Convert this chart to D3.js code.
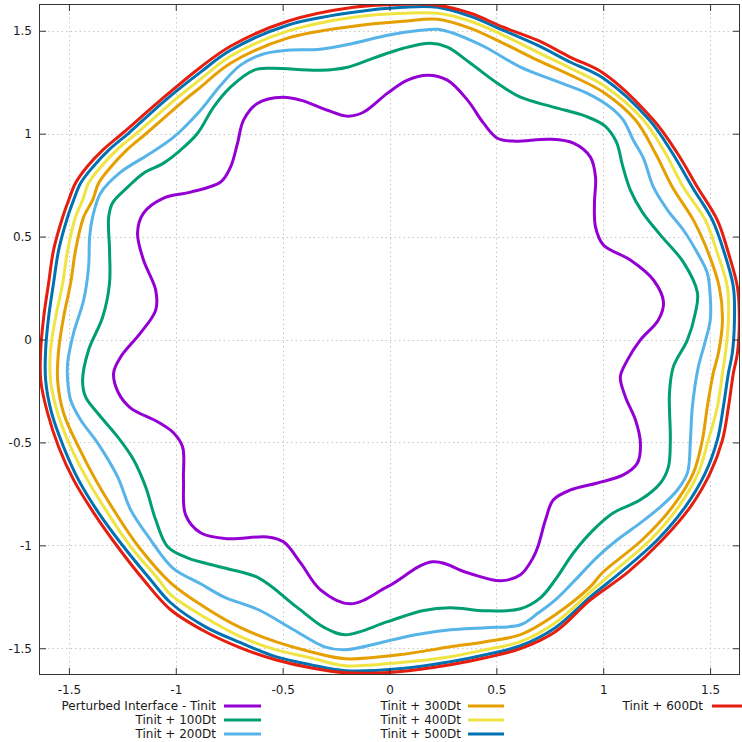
<!DOCTYPE html>
<html>
<head>
<meta charset="utf-8">
<script src="https://cdn.jsdelivr.net/npm/d3@7/dist/d3.min.js"></script>
<style>
  html, body { margin: 0; padding: 0; background: #fff; }
  svg { display: block; font-family: "DejaVu Sans", sans-serif; }
</style>
</head>
<body>
<svg id="chart" width="742" height="742"></svg>
<script>
// ---- data (x, y) ----
const seriesNames = ["Perturbed Interface - Tinit", "Tinit + 100Dt", "Tinit + 200Dt", "Tinit + 300Dt", "Tinit + 400Dt", "Tinit + 500Dt", "Tinit + 600Dt"];
const seriesColors = ["#9400d3", "#009e73", "#56b4e9", "#e69f00", "#f0e442", "#0072b2", "#e51e10"];
const xTicks = [-1.5, -1, -0.5, 0, 0.5, 1, 1.5];
const yTicks = [-1.5, -1, -0.5, 0, 0.5, 1, 1.5];

const tInit = [
  [0.178,1.284],[0.271,1.260],[0.365,1.163],[0.440,1.051],[0.505,0.978],[0.580,0.964],[0.753,0.973],[0.861,0.954],
  [0.940,0.886],[0.964,0.789],[0.959,0.663],[0.964,0.546],[1.001,0.459],[1.127,0.386],[1.235,0.289],[1.282,0.182],
  [1.258,0.095],[1.174,-0.002],[1.113,-0.100],[1.080,-0.182],[1.104,-0.279],[1.151,-0.391],[1.174,-0.502],[1.160,-0.600],
  [1.094,-0.658],[0.973,-0.697],[0.847,-0.731],[0.767,-0.779],[0.730,-0.876],[0.697,-0.998],[0.674,-1.056],[0.613,-1.143],
  [0.519,-1.172],[0.365,-1.133],[0.201,-1.080],[-0.009,-1.201],[-0.182,-1.284],[-0.323,-1.216],[-0.416,-1.085],[-0.496,-0.983],
  [-0.571,-0.959],[-0.758,-0.968],[-0.884,-0.939],[-0.954,-0.852],[-0.964,-0.682],[-0.968,-0.522],[-1.010,-0.454],[-1.085,-0.400],
  [-1.211,-0.333],[-1.268,-0.260],[-1.291,-0.163],[-1.258,-0.085],[-1.165,0.032],[-1.094,0.143],[-1.094,0.240],[-1.151,0.386],
  [-1.179,0.517],[-1.151,0.614],[-1.057,0.687],[-0.931,0.716],[-0.790,0.765],[-0.744,0.837],[-0.711,0.954],[-0.683,1.066],
  [-0.617,1.148],[-0.500,1.177],[-0.416,1.163],[-0.290,1.114],[-0.196,1.085],[-0.122,1.104],[-0.009,1.197],[0.084,1.260]
];

const t100 = [
  [0.192,1.439],[0.271,1.420],[0.379,1.342],[0.505,1.245],[0.613,1.177],[0.767,1.129],[0.917,1.085],[1.010,1.036],
  [1.062,0.959],[1.090,0.847],[1.127,0.726],[1.183,0.619],[1.268,0.507],[1.375,0.376],[1.441,0.226],[1.431,0.129],
  [1.394,-0.002],[1.328,-0.133],[1.310,-0.260],[1.314,-0.488],[1.305,-0.619],[1.268,-0.697],[1.174,-0.779],[1.048,-0.842],
  [0.954,-0.925],[0.861,-1.036],[0.776,-1.167],[0.706,-1.255],[0.613,-1.308],[0.449,-1.318],[0.285,-1.303],[0.154,-1.318],
  [-0.009,-1.371],[-0.206,-1.434],[-0.304,-1.400],[-0.435,-1.299],[-0.613,-1.158],[-0.776,-1.109],[-0.945,-1.061],[-1.038,-1.007],
  [-1.094,-0.876],[-1.141,-0.716],[-1.197,-0.585],[-1.272,-0.473],[-1.366,-0.357],[-1.422,-0.279],[-1.436,-0.197],[-1.408,-0.051],
  [-1.342,0.109],[-1.310,0.274],[-1.310,0.434],[-1.314,0.595],[-1.296,0.663],[-1.225,0.740],[-1.151,0.808],[-1.057,0.857],
  [-0.978,0.920],[-0.898,1.002],[-0.823,1.129],[-0.744,1.226],[-0.636,1.308],[-0.557,1.318],[-0.323,1.308],[-0.196,1.323],
  [-0.075,1.367],[0.065,1.415]
];

const t200 = [
  [0.145,1.502],[0.225,1.507],[0.299,1.488],[0.379,1.454],[0.458,1.415],[0.613,1.323],[0.767,1.260],[0.926,1.196],
  [1.034,1.128],[1.094,1.066],[1.141,0.968],[1.188,0.881],[1.235,0.740],[1.301,0.629],[1.375,0.532],[1.441,0.420],
  [1.487,0.323],[1.501,0.206],[1.501,0.095],[1.473,-0.026],[1.445,-0.133],[1.417,-0.328],[1.408,-0.488],[1.394,-0.648],
  [1.347,-0.731],[1.268,-0.813],[1.174,-0.891],[1.066,-0.973],[0.973,-1.056],[0.861,-1.177],[0.776,-1.265],[0.697,-1.328],
  [0.613,-1.386],[0.449,-1.400],[0.285,-1.410],[0.122,-1.434],[-0.042,-1.473],[-0.206,-1.507],[-0.304,-1.493],[-0.449,-1.410],
  [-0.613,-1.313],[-0.776,-1.250],[-0.884,-1.187],[-1.015,-1.109],[-1.118,-0.973],[-1.211,-0.828],[-1.272,-0.667],[-1.366,-0.502],
  [-1.445,-0.391],[-1.492,-0.294],[-1.506,-0.197],[-1.506,-0.114],[-1.478,0.032],[-1.431,0.192],[-1.408,0.352],[-1.403,0.498],
  [-1.389,0.595],[-1.352,0.711],[-1.258,0.813],[-1.132,0.896],[-1.010,0.983],[-0.884,1.114],[-0.790,1.235],[-0.697,1.333],
  [-0.594,1.386],[-0.477,1.405],[-0.323,1.410],[-0.168,1.439],[-0.009,1.478]
];

const t300 = [
  [-0.884,1.226],[-0.744,1.342],[-0.477,1.464],[-0.168,1.522],[0.065,1.546],[0.225,1.556],[0.379,1.512],[0.533,1.439],[0.692,1.357],
  [0.847,1.284],[1.001,1.201],[1.151,1.066],[1.244,0.905],[1.324,0.740],[1.422,0.580],[1.492,0.420],[1.543,0.255],
  [1.558,0.095],[1.539,-0.066],[1.515,-0.163],[1.487,-0.328],[1.464,-0.488],[1.422,-0.648],[1.324,-0.813],[1.183,-0.973],
  [0.996,-1.133],[0.940,-1.201],[0.776,-1.337],[0.613,-1.434],[0.449,-1.468],[0.285,-1.493],[0.042,-1.532],[-0.206,-1.551],
  [-0.370,-1.517],[-0.533,-1.468],[-0.697,-1.400],[-0.861,-1.303],[-1.024,-1.182],[-1.174,-1.007],[-1.282,-0.842],[-1.375,-0.682],
  [-1.455,-0.522],[-1.525,-0.357],[-1.553,-0.197],[-1.548,-0.051],[-1.525,0.109],[-1.492,0.274],[-1.469,0.434],[-1.431,0.595],
  [-1.389,0.677],[-1.361,0.760],[-1.305,0.837],[-1.230,0.920],[-1.137,1.002],[-0.959,1.163]
];

const t400 = [
  [-0.884,1.265],[-0.744,1.376],[-0.477,1.498],[-0.168,1.566],[0.065,1.585],[0.225,1.585],[0.379,1.546],[0.533,1.478],[0.692,1.396],
  [0.847,1.318],[1.001,1.235],[1.188,1.066],[1.291,0.905],[1.375,0.740],[1.478,0.580],[1.534,0.420],[1.581,0.255],
  [1.586,0.095],[1.572,-0.066],[1.558,-0.163],[1.534,-0.328],[1.492,-0.488],[1.445,-0.648],[1.352,-0.813],[1.221,-0.973],
  [1.043,-1.133],[0.940,-1.226],[0.776,-1.376],[0.613,-1.468],[0.449,-1.507],[0.285,-1.541],[0.042,-1.570],[-0.206,-1.585],
  [-0.370,-1.546],[-0.533,-1.507],[-0.697,-1.444],[-0.861,-1.352],[-1.024,-1.240],[-1.080,-1.167],[-1.211,-1.007],[-1.319,-0.842],
  [-1.413,-0.682],[-1.492,-0.522],[-1.553,-0.357],[-1.586,-0.197],[-1.586,-0.051],[-1.562,0.109],[-1.529,0.274],[-1.506,0.434],
  [-1.469,0.595],[-1.436,0.677],[-1.408,0.760],[-1.352,0.837],[-1.277,0.920],[-1.183,1.002],[-1.006,1.163]
];

const t500 = [
  [-0.884,1.299],[-0.744,1.405],[-0.477,1.527],[-0.168,1.590],[0.065,1.614],[0.225,1.614],[0.379,1.570],[0.533,1.502],[0.692,1.430],
  [0.847,1.347],[1.001,1.269],[1.216,1.066],[1.324,0.905],[1.417,0.740],[1.511,0.580],[1.567,0.420],[1.609,0.255],
  [1.614,0.095],[1.604,-0.066],[1.586,-0.163],[1.562,-0.328],[1.534,-0.488],[1.478,-0.648],[1.384,-0.813],[1.254,-0.973],
  [1.080,-1.133],[0.940,-1.250],[0.776,-1.400],[0.613,-1.488],[0.449,-1.532],[0.285,-1.566],[0.042,-1.600],[-0.206,-1.609],
  [-0.370,-1.580],[-0.533,-1.541],[-0.697,-1.473],[-0.861,-1.396],[-1.024,-1.279],[-1.118,-1.167],[-1.244,-1.007],[-1.361,-0.842],
  [-1.455,-0.682],[-1.525,-0.522],[-1.581,-0.357],[-1.609,-0.197],[-1.609,-0.051],[-1.595,0.109],[-1.572,0.274],[-1.548,0.434],
  [-1.506,0.595],[-1.478,0.677],[-1.445,0.760],[-1.389,0.837],[-1.314,0.920],[-1.221,1.002],[-1.048,1.163]
];

const t600 = [
  [-0.884,1.323],[-0.744,1.425],[-0.477,1.546],[-0.168,1.614],[0.065,1.629],[0.225,1.624],[0.379,1.585],[0.533,1.517],[0.692,1.454],
  [0.847,1.371],[1.001,1.294],[1.235,1.066],[1.347,0.905],[1.441,0.740],[1.534,0.580],[1.586,0.420],[1.628,0.255],
  [1.637,0.095],[1.628,-0.066],[1.609,-0.163],[1.586,-0.328],[1.558,-0.488],[1.501,-0.648],[1.408,-0.813],[1.277,-0.973],
  [1.113,-1.133],[0.940,-1.265],[0.776,-1.420],[0.613,-1.502],[0.449,-1.546],[0.285,-1.580],[0.042,-1.614],[-0.206,-1.619],
  [-0.370,-1.595],[-0.533,-1.556],[-0.697,-1.498],[-0.861,-1.420],[-1.024,-1.313],[-1.151,-1.167],[-1.272,-1.007],[-1.384,-0.842],
  [-1.478,-0.682],[-1.548,-0.522],[-1.600,-0.357],[-1.632,-0.197],[-1.632,-0.051],[-1.618,0.109],[-1.595,0.274],[-1.572,0.434],
  [-1.529,0.595],[-1.501,0.677],[-1.469,0.760],[-1.417,0.837],[-1.342,0.920],[-1.249,1.002],[-1.071,1.163]
];

const allSeries = [tInit, t100, t200, t300, t400, t500, t600];

(function () {
  const svg = d3.select("#chart");
  const mLeft = 39, mRight = 740, mTop = 4, mBottom = 675;
  const x = d3.scaleLinear().domain([-1.64, 1.64]).range([mLeft, mRight]);
  const y = d3.scaleLinear().domain([-1.63, 1.63]).range([mBottom, mTop]);
  const fmt = d => String(d);
  const textColor = "#1a1a1a";

  // grid
  const grid = svg.append("g").attr("stroke", "#c8c8c8").attr("stroke-width", 1).attr("stroke-dasharray", "1.5,3");
  grid.selectAll("line.gx").data(xTicks).join("line").attr("class", "gx")
    .attr("x1", d => Math.round(x(d)) + 0.5).attr("x2", d => Math.round(x(d)) + 0.5)
    .attr("y1", mTop).attr("y2", mBottom);
  grid.selectAll("line.gy").data(yTicks).join("line").attr("class", "gy")
    .attr("y1", d => Math.round(y(d)) + 0.5).attr("y2", d => Math.round(y(d)) + 0.5)
    .attr("x1", mLeft).attr("x2", mRight);

  // curves
  svg.append("clipPath").attr("id", "clip").append("rect")
    .attr("x", mLeft).attr("y", mTop).attr("width", mRight - mLeft).attr("height", mBottom - mTop);
  const line = d3.line().x(d => x(d[0])).y(d => y(d[1])).curve(d3.curveCatmullRomClosed.alpha(0.5));
  svg.append("g").attr("clip-path", "url(#clip)")
    .selectAll("path").data(allSeries).join("path")
    .attr("d", d => line(d))
    .attr("fill", "none")
    .attr("stroke", (d, i) => seriesColors[i])
    .attr("stroke-width", 3)
    .attr("stroke-linejoin", "round");

  // axes (inward ticks, mirrored)
  function styleAxis(g) {
    g.select(".domain").remove();
    g.selectAll(".tick line").attr("stroke", "#333");
    g.selectAll(".tick text").attr("fill", textColor).style("font-size", "12px").style("font-family", "DejaVu Sans, sans-serif");
  }
  svg.append("g").attr("transform", `translate(0,${mBottom})`)
    .call(d3.axisBottom(x).tickValues(xTicks).tickFormat(fmt).tickSize(-7).tickPadding(10)).call(styleAxis);
  svg.append("g").attr("transform", `translate(0,${mTop})`)
    .call(d3.axisTop(x).tickValues(xTicks).tickFormat("").tickSize(-7)).call(styleAxis);
  svg.append("g").attr("transform", `translate(${mLeft},0)`)
    .call(d3.axisLeft(y).tickValues(yTicks).tickFormat(fmt).tickSize(-7).tickPadding(7)).call(styleAxis);
  svg.append("g").attr("transform", `translate(${mRight},0)`)
    .call(d3.axisRight(y).tickValues(yTicks).tickFormat("").tickSize(-7)).call(styleAxis);

  // border
  svg.append("rect").attr("x", mLeft + 0.5).attr("y", mTop + 0.5)
    .attr("width", mRight - mLeft - 1).attr("height", mBottom - mTop - 1)
    .attr("fill", "none").attr("stroke", "#333").attr("stroke-width", 1);

  // legend
  const legendPos = [
    {tx: 216, y: 706, lx1: 224, lx2: 261},
    {tx: 216, y: 720, lx1: 224, lx2: 261},
    {tx: 216, y: 734, lx1: 224, lx2: 261},
    {tx: 461, y: 706, lx1: 468, lx2: 504},
    {tx: 461, y: 720, lx1: 468, lx2: 504},
    {tx: 461, y: 734, lx1: 468, lx2: 504},
    {tx: 703, y: 706, lx1: 712, lx2: 750}
  ];
  const lg = svg.append("g");
  seriesNames.forEach((name, i) => {
    const p = legendPos[i];
    lg.append("text").attr("x", p.tx).attr("y", p.y).attr("dy", "0.35em")
      .attr("text-anchor", "end").attr("fill", textColor)
      .style("font-size", "12px").text(name);
    lg.append("line").attr("x1", p.lx1).attr("x2", p.lx2).attr("y1", p.y).attr("y2", p.y)
      .attr("stroke", seriesColors[i]).attr("stroke-width", 3);
  });
})();
</script>
</body>
</html>
